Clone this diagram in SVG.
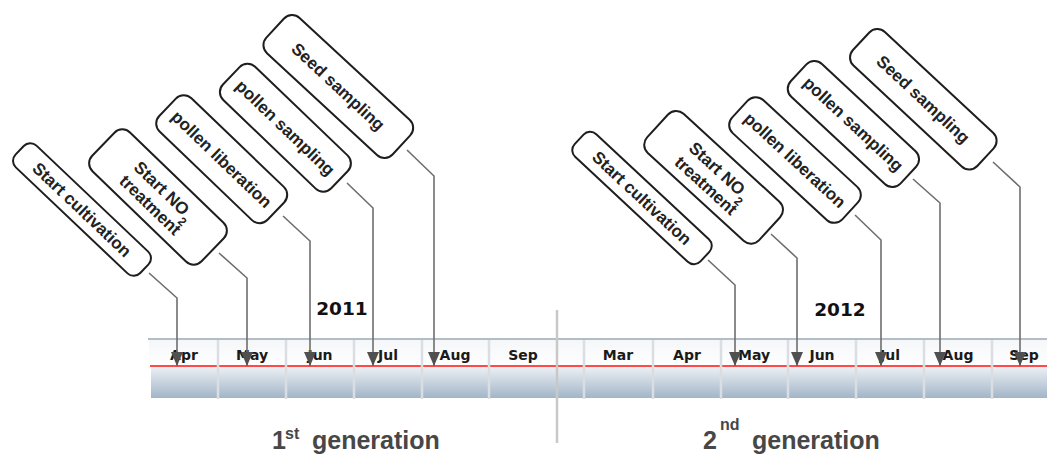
<svg xmlns="http://www.w3.org/2000/svg" width="1047" height="456" viewBox="0 0 1047 456">
  <defs>
    <linearGradient id="band" x1="0" y1="0" x2="0" y2="1">
      <stop offset="0" stop-color="#eef2f6"/>
      <stop offset="1" stop-color="#a2b5c8"/>
    </linearGradient>
    <linearGradient id="head" x1="0" y1="0" x2="0" y2="1">
      <stop offset="0" stop-color="#f4f6f8"/>
      <stop offset="1" stop-color="#ffffff"/>
    </linearGradient>
    <marker id="arr" markerUnits="userSpaceOnUse" markerWidth="14" markerHeight="12" refX="14" refY="6" orient="auto">
      <path d="M0,0 L14,6 L0,12 z" fill="#505050"/>
    </marker>
  </defs>
  <style>
    .box { fill: #ffffff; stroke: #1e1e1e; stroke-width: 2; }
    .lbl { font-family: "Liberation Sans", Arial, sans-serif; font-weight: bold; font-size: 17px; fill: #222222; text-anchor: middle; }
    .mon { font-family: "DejaVu Sans", Verdana, sans-serif; font-weight: bold; font-size: 14px; fill: #1a1a1a; text-anchor: middle; }
    .yr { font-family: "DejaVu Sans", Verdana, sans-serif; font-weight: bold; font-size: 18.5px; fill: #111111; text-anchor: middle; }
    .gen { font-family: "Liberation Sans", Arial, sans-serif; font-weight: bold; font-size: 25px; fill: #474747; }
    .sup { font-family: "Liberation Sans", Arial, sans-serif; font-weight: bold; font-size: 16px; fill: #474747; }
    .div { stroke: #dadde1; stroke-width: 2.5; }
    .con { fill: none; stroke: #6e6e6e; stroke-width: 1.6; marker-end: url(#arr); }
  </style>
  <rect width="1047" height="456" fill="#ffffff"/>

  <g id="timeline">
    <rect x="149" y="339" width="898" height="27" fill="url(#head)"/>
    <rect x="151" y="366" width="896" height="32" fill="url(#band)"/>
    <line x1="148" y1="339" x2="1047" y2="339" stroke="#b2bdc9" stroke-width="2"/>
    <line x1="150" y1="366" x2="1047" y2="366" stroke="#ff4a4a" stroke-width="2"/>
    <g class="div">
      <line x1="218" y1="340" x2="218" y2="399"/>
      <line x1="286" y1="340" x2="286" y2="399"/>
      <line x1="354" y1="340" x2="354" y2="399"/>
      <line x1="422" y1="340" x2="422" y2="399"/>
      <line x1="489" y1="340" x2="489" y2="399"/>
      <line x1="584" y1="340" x2="584" y2="399"/>
      <line x1="653" y1="340" x2="653" y2="399"/>
      <line x1="721" y1="340" x2="721" y2="399"/>
      <line x1="788" y1="340" x2="788" y2="399"/>
      <line x1="856" y1="340" x2="856" y2="399"/>
      <line x1="924" y1="340" x2="924" y2="399"/>
      <line x1="992" y1="340" x2="992" y2="399"/>
    </g>
    <line x1="557" y1="310" x2="557" y2="443" stroke="#c8c8c8" stroke-width="2.5"/>
    <text class="mon" x="184" y="360">Apr</text>
    <text class="mon" x="252" y="360">May</text>
    <text class="mon" x="320" y="360">Jun</text>
    <text class="mon" x="388" y="360">Jul</text>
    <text class="mon" x="455" y="360">Aug</text>
    <text class="mon" x="523" y="360">Sep</text>
    <text class="mon" x="618" y="360">Mar</text>
    <text class="mon" x="687" y="360">Apr</text>
    <text class="mon" x="754" y="360">May</text>
    <text class="mon" x="822" y="360">Jun</text>
    <text class="mon" x="890" y="360">Jul</text>
    <text class="mon" x="958" y="360">Aug</text>
    <text class="mon" x="1024" y="360">Sep</text>
    <text class="yr" x="342" y="315">2011</text>
    <text class="yr" x="840" y="316">2012</text>
  </g>

  <g id="gen1">
    <text class="gen" x="272" y="449">1</text>
    <text class="sup" x="285" y="439">st</text>
    <text class="gen" x="312" y="449">generation</text>
  </g>
  <g id="gen2">
    <text class="gen" x="703" y="449">2</text>
    <text class="sup" x="720" y="430">nd</text>
    <text class="gen" x="752" y="449">generation</text>
  </g>

  <g id="connectors">
    <path class="con" d="M149,273 L177,298 L177,366"/>
    <path class="con" d="M219,253 L247,278 L247,366"/>
    <path class="con" d="M283,216 L310,241 L310,366"/>
    <path class="con" d="M347,183 L373,208 L373,366"/>
    <path class="con" d="M407,150 L434,176 L434,366"/>
    <path class="con" d="M708,260 L735,285 L735,366"/>
    <path class="con" d="M771,234 L797,258 L797,366"/>
    <path class="con" d="M855,215 L881,240 L881,366"/>
    <path class="con" d="M913,179 L940,203 L940,366"/>
    <path class="con" d="M993,162 L1020,187 L1020,366"/>
  </g>

  <g id="n1-start-cultivation" transform="translate(82,209.5) rotate(43.5)">
    <rect class="box" x="-86" y="-15" width="172" height="30" rx="9"/>
    <text class="lbl" x="0" y="6">Start cultivation</text>
  </g>
  <g id="n1-start-no2" transform="translate(158,197) rotate(44)">
    <rect class="box" x="-76" y="-27" width="152" height="54" rx="11"/>
    <text class="lbl" x="0" y="-3">Start NO<tspan font-size="12" dy="8">2</tspan></text>
    <text class="lbl" x="0" y="17">treatment</text>
  </g>
  <g id="n1-pollen-liberation" transform="translate(221.7,159.2) rotate(43.8)">
    <rect class="box" x="-75" y="-23" width="150" height="46" rx="11"/>
    <text class="lbl" x="0" y="6">pollen liberation</text>
  </g>
  <g id="n1-pollen-sampling" transform="translate(285.4,127.7) rotate(43.8)">
    <rect class="box" x="-75" y="-23" width="150" height="46" rx="11"/>
    <text class="lbl" x="0" y="6">pollen sampling</text>
  </g>
  <g id="n1-seed-sampling" transform="translate(338.3,86.5) rotate(42.8)">
    <rect class="box" x="-86" y="-24" width="172" height="48" rx="11"/>
    <text class="lbl" x="0" y="6">Seed sampling</text>
  </g>

  <g id="n2-start-cultivation" transform="translate(642,198) rotate(43)">
    <rect class="box" x="-86" y="-15.5" width="172" height="31" rx="9"/>
    <text class="lbl" x="0" y="6">Start cultivation</text>
  </g>
  <g id="n2-start-no2" transform="translate(713.6,177.3) rotate(42.5)">
    <rect class="box" x="-76" y="-26.5" width="152" height="53" rx="11"/>
    <text class="lbl" x="0" y="-3">Start NO<tspan font-size="12" dy="8">2</tspan></text>
    <text class="lbl" x="0" y="17">treatment</text>
  </g>
  <g id="n2-pollen-liberation" transform="translate(795,160) rotate(42.7)">
    <rect class="box" x="-75" y="-22.5" width="150" height="45" rx="11"/>
    <text class="lbl" x="0" y="6">pollen liberation</text>
  </g>
  <g id="n2-pollen-sampling" transform="translate(853.4,124) rotate(43)">
    <rect class="box" x="-75" y="-22.5" width="150" height="45" rx="11"/>
    <text class="lbl" x="0" y="6">pollen sampling</text>
  </g>
  <g id="n2-seed-sampling" transform="translate(923.3,99.2) rotate(43)">
    <rect class="box" x="-85" y="-23" width="170" height="46" rx="11"/>
    <text class="lbl" x="0" y="6">Seed sampling</text>
  </g>
</svg>
